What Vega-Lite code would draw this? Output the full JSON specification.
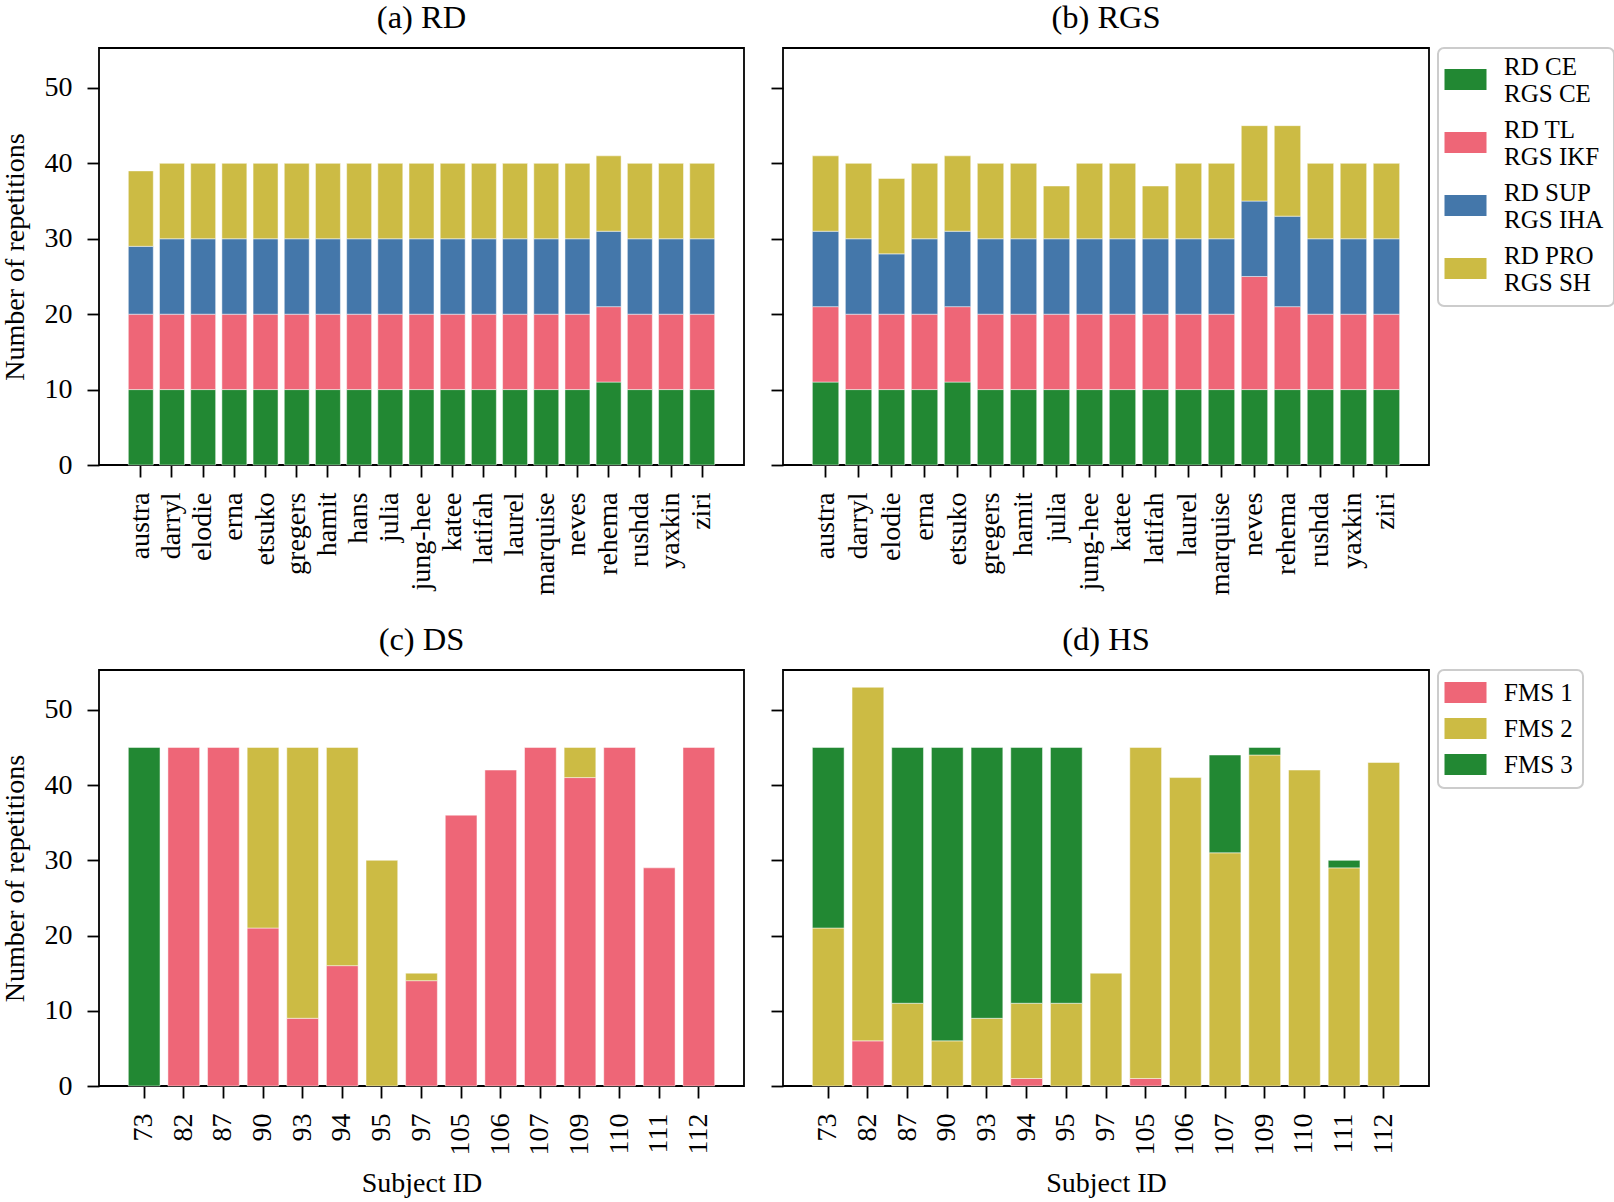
{
  "$schema": "https://vega.github.io/schema/vega-lite/v6.json",
  "background": "white",
  "padding": {"left": 0, "top": 0, "right": 2, "bottom": 2},
  "config": {
    "font": "Liberation Serif",
    "view": {"stroke": "black", "strokeWidth": 1.8},
    "axis": {
      "domain": false, "grid": false, "ticks": true, "tickColor": "black", "tickWidth": 1.8, "tickSize": 12,
      "labelFont": "Liberation Serif", "labelFontSize": 28, "labelColor": "black", "labelPadding": 15,
      "titleFont": "Liberation Serif", "titleFontSize": 28, "titleFontWeight": "normal", "titleColor": "black", "titlePadding": 15
    },
    "title": {"font": "Liberation Serif", "fontSize": 32.5, "fontWeight": "normal", "color": "black", "offset": 14},
    "legend": {
      "labelFont": "Liberation Serif", "labelFontSize": 25, "labelColor": "black", "labelLimit": 400,
      "strokeColor": "#cccccc", "strokeWidth": 2, "cornerRadius": 6, "fillColor": "white", "padding": 10,
      "symbolType": "M-2,-1H2V1H-2Z", "symbolSize": 441, "symbolStrokeWidth": 0, "symbolOffset": 5,
      "labelOffset": 26, "offset": 8
    }
  },
  "datasets": {
    "rd": [
      {"s": "austra", "cls": "RD CE|RGS CE", "n": 10}, {"s": "austra", "cls": "RD TL|RGS IKF", "n": 10}, {"s": "austra", "cls": "RD SUP|RGS IHA", "n": 9}, {"s": "austra", "cls": "RD PRO|RGS SH", "n": 10},
      {"s": "darryl", "cls": "RD CE|RGS CE", "n": 10}, {"s": "darryl", "cls": "RD TL|RGS IKF", "n": 10}, {"s": "darryl", "cls": "RD SUP|RGS IHA", "n": 10}, {"s": "darryl", "cls": "RD PRO|RGS SH", "n": 10},
      {"s": "elodie", "cls": "RD CE|RGS CE", "n": 10}, {"s": "elodie", "cls": "RD TL|RGS IKF", "n": 10}, {"s": "elodie", "cls": "RD SUP|RGS IHA", "n": 10}, {"s": "elodie", "cls": "RD PRO|RGS SH", "n": 10},
      {"s": "erna", "cls": "RD CE|RGS CE", "n": 10}, {"s": "erna", "cls": "RD TL|RGS IKF", "n": 10}, {"s": "erna", "cls": "RD SUP|RGS IHA", "n": 10}, {"s": "erna", "cls": "RD PRO|RGS SH", "n": 10},
      {"s": "etsuko", "cls": "RD CE|RGS CE", "n": 10}, {"s": "etsuko", "cls": "RD TL|RGS IKF", "n": 10}, {"s": "etsuko", "cls": "RD SUP|RGS IHA", "n": 10}, {"s": "etsuko", "cls": "RD PRO|RGS SH", "n": 10},
      {"s": "gregers", "cls": "RD CE|RGS CE", "n": 10}, {"s": "gregers", "cls": "RD TL|RGS IKF", "n": 10}, {"s": "gregers", "cls": "RD SUP|RGS IHA", "n": 10}, {"s": "gregers", "cls": "RD PRO|RGS SH", "n": 10},
      {"s": "hamit", "cls": "RD CE|RGS CE", "n": 10}, {"s": "hamit", "cls": "RD TL|RGS IKF", "n": 10}, {"s": "hamit", "cls": "RD SUP|RGS IHA", "n": 10}, {"s": "hamit", "cls": "RD PRO|RGS SH", "n": 10},
      {"s": "hans", "cls": "RD CE|RGS CE", "n": 10}, {"s": "hans", "cls": "RD TL|RGS IKF", "n": 10}, {"s": "hans", "cls": "RD SUP|RGS IHA", "n": 10}, {"s": "hans", "cls": "RD PRO|RGS SH", "n": 10},
      {"s": "julia", "cls": "RD CE|RGS CE", "n": 10}, {"s": "julia", "cls": "RD TL|RGS IKF", "n": 10}, {"s": "julia", "cls": "RD SUP|RGS IHA", "n": 10}, {"s": "julia", "cls": "RD PRO|RGS SH", "n": 10},
      {"s": "jung-hee", "cls": "RD CE|RGS CE", "n": 10}, {"s": "jung-hee", "cls": "RD TL|RGS IKF", "n": 10}, {"s": "jung-hee", "cls": "RD SUP|RGS IHA", "n": 10}, {"s": "jung-hee", "cls": "RD PRO|RGS SH", "n": 10},
      {"s": "katee", "cls": "RD CE|RGS CE", "n": 10}, {"s": "katee", "cls": "RD TL|RGS IKF", "n": 10}, {"s": "katee", "cls": "RD SUP|RGS IHA", "n": 10}, {"s": "katee", "cls": "RD PRO|RGS SH", "n": 10},
      {"s": "latifah", "cls": "RD CE|RGS CE", "n": 10}, {"s": "latifah", "cls": "RD TL|RGS IKF", "n": 10}, {"s": "latifah", "cls": "RD SUP|RGS IHA", "n": 10}, {"s": "latifah", "cls": "RD PRO|RGS SH", "n": 10},
      {"s": "laurel", "cls": "RD CE|RGS CE", "n": 10}, {"s": "laurel", "cls": "RD TL|RGS IKF", "n": 10}, {"s": "laurel", "cls": "RD SUP|RGS IHA", "n": 10}, {"s": "laurel", "cls": "RD PRO|RGS SH", "n": 10},
      {"s": "marquise", "cls": "RD CE|RGS CE", "n": 10}, {"s": "marquise", "cls": "RD TL|RGS IKF", "n": 10}, {"s": "marquise", "cls": "RD SUP|RGS IHA", "n": 10}, {"s": "marquise", "cls": "RD PRO|RGS SH", "n": 10},
      {"s": "neves", "cls": "RD CE|RGS CE", "n": 10}, {"s": "neves", "cls": "RD TL|RGS IKF", "n": 10}, {"s": "neves", "cls": "RD SUP|RGS IHA", "n": 10}, {"s": "neves", "cls": "RD PRO|RGS SH", "n": 10},
      {"s": "rehema", "cls": "RD CE|RGS CE", "n": 11}, {"s": "rehema", "cls": "RD TL|RGS IKF", "n": 10}, {"s": "rehema", "cls": "RD SUP|RGS IHA", "n": 10}, {"s": "rehema", "cls": "RD PRO|RGS SH", "n": 10},
      {"s": "rushda", "cls": "RD CE|RGS CE", "n": 10}, {"s": "rushda", "cls": "RD TL|RGS IKF", "n": 10}, {"s": "rushda", "cls": "RD SUP|RGS IHA", "n": 10}, {"s": "rushda", "cls": "RD PRO|RGS SH", "n": 10},
      {"s": "yaxkin", "cls": "RD CE|RGS CE", "n": 10}, {"s": "yaxkin", "cls": "RD TL|RGS IKF", "n": 10}, {"s": "yaxkin", "cls": "RD SUP|RGS IHA", "n": 10}, {"s": "yaxkin", "cls": "RD PRO|RGS SH", "n": 10},
      {"s": "ziri", "cls": "RD CE|RGS CE", "n": 10}, {"s": "ziri", "cls": "RD TL|RGS IKF", "n": 10}, {"s": "ziri", "cls": "RD SUP|RGS IHA", "n": 10}, {"s": "ziri", "cls": "RD PRO|RGS SH", "n": 10}
    ],
    "rgs": [
      {"s": "austra", "cls": "RD CE|RGS CE", "n": 11}, {"s": "austra", "cls": "RD TL|RGS IKF", "n": 10}, {"s": "austra", "cls": "RD SUP|RGS IHA", "n": 10}, {"s": "austra", "cls": "RD PRO|RGS SH", "n": 10},
      {"s": "darryl", "cls": "RD CE|RGS CE", "n": 10}, {"s": "darryl", "cls": "RD TL|RGS IKF", "n": 10}, {"s": "darryl", "cls": "RD SUP|RGS IHA", "n": 10}, {"s": "darryl", "cls": "RD PRO|RGS SH", "n": 10},
      {"s": "elodie", "cls": "RD CE|RGS CE", "n": 10}, {"s": "elodie", "cls": "RD TL|RGS IKF", "n": 10}, {"s": "elodie", "cls": "RD SUP|RGS IHA", "n": 8}, {"s": "elodie", "cls": "RD PRO|RGS SH", "n": 10},
      {"s": "erna", "cls": "RD CE|RGS CE", "n": 10}, {"s": "erna", "cls": "RD TL|RGS IKF", "n": 10}, {"s": "erna", "cls": "RD SUP|RGS IHA", "n": 10}, {"s": "erna", "cls": "RD PRO|RGS SH", "n": 10},
      {"s": "etsuko", "cls": "RD CE|RGS CE", "n": 11}, {"s": "etsuko", "cls": "RD TL|RGS IKF", "n": 10}, {"s": "etsuko", "cls": "RD SUP|RGS IHA", "n": 10}, {"s": "etsuko", "cls": "RD PRO|RGS SH", "n": 10},
      {"s": "gregers", "cls": "RD CE|RGS CE", "n": 10}, {"s": "gregers", "cls": "RD TL|RGS IKF", "n": 10}, {"s": "gregers", "cls": "RD SUP|RGS IHA", "n": 10}, {"s": "gregers", "cls": "RD PRO|RGS SH", "n": 10},
      {"s": "hamit", "cls": "RD CE|RGS CE", "n": 10}, {"s": "hamit", "cls": "RD TL|RGS IKF", "n": 10}, {"s": "hamit", "cls": "RD SUP|RGS IHA", "n": 10}, {"s": "hamit", "cls": "RD PRO|RGS SH", "n": 10},
      {"s": "julia", "cls": "RD CE|RGS CE", "n": 10}, {"s": "julia", "cls": "RD TL|RGS IKF", "n": 10}, {"s": "julia", "cls": "RD SUP|RGS IHA", "n": 10}, {"s": "julia", "cls": "RD PRO|RGS SH", "n": 7},
      {"s": "jung-hee", "cls": "RD CE|RGS CE", "n": 10}, {"s": "jung-hee", "cls": "RD TL|RGS IKF", "n": 10}, {"s": "jung-hee", "cls": "RD SUP|RGS IHA", "n": 10}, {"s": "jung-hee", "cls": "RD PRO|RGS SH", "n": 10},
      {"s": "katee", "cls": "RD CE|RGS CE", "n": 10}, {"s": "katee", "cls": "RD TL|RGS IKF", "n": 10}, {"s": "katee", "cls": "RD SUP|RGS IHA", "n": 10}, {"s": "katee", "cls": "RD PRO|RGS SH", "n": 10},
      {"s": "latifah", "cls": "RD CE|RGS CE", "n": 10}, {"s": "latifah", "cls": "RD TL|RGS IKF", "n": 10}, {"s": "latifah", "cls": "RD SUP|RGS IHA", "n": 10}, {"s": "latifah", "cls": "RD PRO|RGS SH", "n": 7},
      {"s": "laurel", "cls": "RD CE|RGS CE", "n": 10}, {"s": "laurel", "cls": "RD TL|RGS IKF", "n": 10}, {"s": "laurel", "cls": "RD SUP|RGS IHA", "n": 10}, {"s": "laurel", "cls": "RD PRO|RGS SH", "n": 10},
      {"s": "marquise", "cls": "RD CE|RGS CE", "n": 10}, {"s": "marquise", "cls": "RD TL|RGS IKF", "n": 10}, {"s": "marquise", "cls": "RD SUP|RGS IHA", "n": 10}, {"s": "marquise", "cls": "RD PRO|RGS SH", "n": 10},
      {"s": "neves", "cls": "RD CE|RGS CE", "n": 10}, {"s": "neves", "cls": "RD TL|RGS IKF", "n": 15}, {"s": "neves", "cls": "RD SUP|RGS IHA", "n": 10}, {"s": "neves", "cls": "RD PRO|RGS SH", "n": 10},
      {"s": "rehema", "cls": "RD CE|RGS CE", "n": 10}, {"s": "rehema", "cls": "RD TL|RGS IKF", "n": 11}, {"s": "rehema", "cls": "RD SUP|RGS IHA", "n": 12}, {"s": "rehema", "cls": "RD PRO|RGS SH", "n": 12},
      {"s": "rushda", "cls": "RD CE|RGS CE", "n": 10}, {"s": "rushda", "cls": "RD TL|RGS IKF", "n": 10}, {"s": "rushda", "cls": "RD SUP|RGS IHA", "n": 10}, {"s": "rushda", "cls": "RD PRO|RGS SH", "n": 10},
      {"s": "yaxkin", "cls": "RD CE|RGS CE", "n": 10}, {"s": "yaxkin", "cls": "RD TL|RGS IKF", "n": 10}, {"s": "yaxkin", "cls": "RD SUP|RGS IHA", "n": 10}, {"s": "yaxkin", "cls": "RD PRO|RGS SH", "n": 10},
      {"s": "ziri", "cls": "RD CE|RGS CE", "n": 10}, {"s": "ziri", "cls": "RD TL|RGS IKF", "n": 10}, {"s": "ziri", "cls": "RD SUP|RGS IHA", "n": 10}, {"s": "ziri", "cls": "RD PRO|RGS SH", "n": 10}
    ],
    "ds": [
      {"id": 73, "fms": "FMS 3", "n": 45},
      {"id": 82, "fms": "FMS 1", "n": 45},
      {"id": 87, "fms": "FMS 1", "n": 45},
      {"id": 90, "fms": "FMS 1", "n": 21}, {"id": 90, "fms": "FMS 2", "n": 24},
      {"id": 93, "fms": "FMS 1", "n": 9}, {"id": 93, "fms": "FMS 2", "n": 36},
      {"id": 94, "fms": "FMS 1", "n": 16}, {"id": 94, "fms": "FMS 2", "n": 29},
      {"id": 95, "fms": "FMS 2", "n": 30},
      {"id": 97, "fms": "FMS 1", "n": 14}, {"id": 97, "fms": "FMS 2", "n": 1},
      {"id": 105, "fms": "FMS 1", "n": 36},
      {"id": 106, "fms": "FMS 1", "n": 42},
      {"id": 107, "fms": "FMS 1", "n": 45},
      {"id": 109, "fms": "FMS 1", "n": 41}, {"id": 109, "fms": "FMS 2", "n": 4},
      {"id": 110, "fms": "FMS 1", "n": 45},
      {"id": 111, "fms": "FMS 1", "n": 29},
      {"id": 112, "fms": "FMS 1", "n": 45}
    ],
    "hs": [
      {"id": 73, "fms": "FMS 2", "n": 21}, {"id": 73, "fms": "FMS 3", "n": 24},
      {"id": 82, "fms": "FMS 1", "n": 6}, {"id": 82, "fms": "FMS 2", "n": 47},
      {"id": 87, "fms": "FMS 2", "n": 11}, {"id": 87, "fms": "FMS 3", "n": 34},
      {"id": 90, "fms": "FMS 2", "n": 6}, {"id": 90, "fms": "FMS 3", "n": 39},
      {"id": 93, "fms": "FMS 2", "n": 9}, {"id": 93, "fms": "FMS 3", "n": 36},
      {"id": 94, "fms": "FMS 1", "n": 1}, {"id": 94, "fms": "FMS 2", "n": 10}, {"id": 94, "fms": "FMS 3", "n": 34},
      {"id": 95, "fms": "FMS 2", "n": 11}, {"id": 95, "fms": "FMS 3", "n": 34},
      {"id": 97, "fms": "FMS 2", "n": 15},
      {"id": 105, "fms": "FMS 1", "n": 1}, {"id": 105, "fms": "FMS 2", "n": 44},
      {"id": 106, "fms": "FMS 2", "n": 41},
      {"id": 107, "fms": "FMS 2", "n": 31}, {"id": 107, "fms": "FMS 3", "n": 13},
      {"id": 109, "fms": "FMS 2", "n": 44}, {"id": 109, "fms": "FMS 3", "n": 1},
      {"id": 110, "fms": "FMS 2", "n": 42},
      {"id": 111, "fms": "FMS 2", "n": 29}, {"id": 111, "fms": "FMS 3", "n": 1},
      {"id": 112, "fms": "FMS 2", "n": 43}
    ]
  },
  "resolve": {"scale": {"color": "independent"}},
  "spacing": 26,
  "vconcat": [
    {
      "spacing": 24,
      "hconcat": [
        {
          "title": "(a) RD",
          "width": 645, "height": 417,
          "data": {"name": "rd"},
          "transform": [{"calculate": "indexof(['RD CE|RGS CE', 'RD TL|RGS IKF', 'RD SUP|RGS IHA', 'RD PRO|RGS SH'], datum.cls)", "as": "k"}],
          "mark": {"type": "bar", "stroke": "white", "strokeWidth": 0.8, "strokeOpacity": 0.6},
          "encoding": {
            "x": {"field": "s", "type": "nominal", "scale": {"paddingInner": 0.2, "paddingOuter": 0.94},
                  "axis": {"title": null, "labelAngle": -90, "labelAlign": "right", "labelBaseline": "middle", "bandPosition": 0.5}},
            "y": {"field": "n", "type": "quantitative", "stack": "zero", "scale": {"domain": [0, 55.3], "nice": false, "zero": true},
                  "axis": {"values": [0, 10, 20, 30, 40, 50], "title": "Number of repetitions"}},
            "order": {"field": "k", "type": "quantitative", "sort": "ascending"},
            "color": {"field": "cls", "type": "nominal",
                      "scale": {"domain": ["RD CE|RGS CE", "RD TL|RGS IKF", "RD SUP|RGS IHA", "RD PRO|RGS SH"], "range": ["#228833", "#EE6677", "#4477AA", "#CCBB44"]},
                      "legend": {"title": " ", "titleFontSize": 2, "titlePadding": 7, "orient": "right", "labelExpr": "split(datum.label, '|')", "labelBaseline": "bottom", "rowPadding": 10}}
          }
        },
        {
          "title": "(b) RGS",
          "width": 646, "height": 417,
          "data": {"name": "rgs"},
          "transform": [{"calculate": "indexof(['RD CE|RGS CE', 'RD TL|RGS IKF', 'RD SUP|RGS IHA', 'RD PRO|RGS SH'], datum.cls)", "as": "k"}],
          "mark": {"type": "bar", "stroke": "white", "strokeWidth": 0.8, "strokeOpacity": 0.6},
          "encoding": {
            "x": {"field": "s", "type": "nominal", "scale": {"paddingInner": 0.2, "paddingOuter": 0.89},
                  "axis": {"title": null, "labelAngle": -90, "labelAlign": "right", "labelBaseline": "middle", "bandPosition": 0.5}},
            "y": {"field": "n", "type": "quantitative", "stack": "zero", "scale": {"domain": [0, 55.3], "nice": false, "zero": true},
                  "axis": {"values": [0, 10, 20, 30, 40, 50], "title": null, "labels": false}},
            "order": {"field": "k", "type": "quantitative", "sort": "ascending"},
            "color": {"field": "cls", "type": "nominal",
                      "scale": {"domain": ["RD CE|RGS CE", "RD TL|RGS IKF", "RD SUP|RGS IHA", "RD PRO|RGS SH"], "range": ["#228833", "#EE6677", "#4477AA", "#CCBB44"]},
                      "legend": {"title": " ", "titleFontSize": 2, "titlePadding": 7, "orient": "right", "labelExpr": "split(datum.label, '|')", "labelBaseline": "bottom", "rowPadding": 10}}
          }
        }
      ]
    },
    {
      "spacing": 24,
      "hconcat": [
        {
          "title": "(c) DS",
          "width": 645, "height": 416,
          "data": {"name": "ds"},
          "mark": {"type": "bar", "stroke": "white", "strokeWidth": 0.8, "strokeOpacity": 0.6},
          "encoding": {
            "x": {"field": "id", "type": "ordinal", "scale": {"paddingInner": 0.2, "paddingOuter": 0.74},
                  "axis": {"title": "Subject ID", "labelAngle": -90, "labelAlign": "right", "labelBaseline": "middle", "bandPosition": 0.5, "titlePadding": 14}},
            "y": {"field": "n", "type": "quantitative", "stack": "zero", "scale": {"domain": [0, 55.3], "nice": false, "zero": true},
                  "axis": {"values": [0, 10, 20, 30, 40, 50], "title": "Number of repetitions"}},
            "order": {"field": "fms", "type": "nominal", "sort": "ascending"},
            "color": {"field": "fms", "type": "nominal",
                      "scale": {"domain": ["FMS 1", "FMS 2", "FMS 3"], "range": ["#EE6677", "#CCBB44", "#228833"]},
                      "legend": {"title": null, "orient": "right", "rowPadding": 10}}
          }
        },
        {
          "title": "(d) HS",
          "width": 646, "height": 416,
          "data": {"name": "hs"},
          "mark": {"type": "bar", "stroke": "white", "strokeWidth": 0.8, "strokeOpacity": 0.6},
          "encoding": {
            "x": {"field": "id", "type": "ordinal", "scale": {"paddingInner": 0.2, "paddingOuter": 0.74},
                  "axis": {"title": "Subject ID", "labelAngle": -90, "labelAlign": "right", "labelBaseline": "middle", "bandPosition": 0.5, "titlePadding": 14}},
            "y": {"field": "n", "type": "quantitative", "stack": "zero", "scale": {"domain": [0, 55.3], "nice": false, "zero": true},
                  "axis": {"values": [0, 10, 20, 30, 40, 50], "title": null, "labels": false}},
            "order": {"field": "fms", "type": "nominal", "sort": "ascending"},
            "color": {"field": "fms", "type": "nominal",
                      "scale": {"domain": ["FMS 1", "FMS 2", "FMS 3"], "range": ["#EE6677", "#CCBB44", "#228833"]},
                      "legend": {"title": null, "orient": "right", "rowPadding": 10}}
          }
        }
      ]
    }
  ]
}
